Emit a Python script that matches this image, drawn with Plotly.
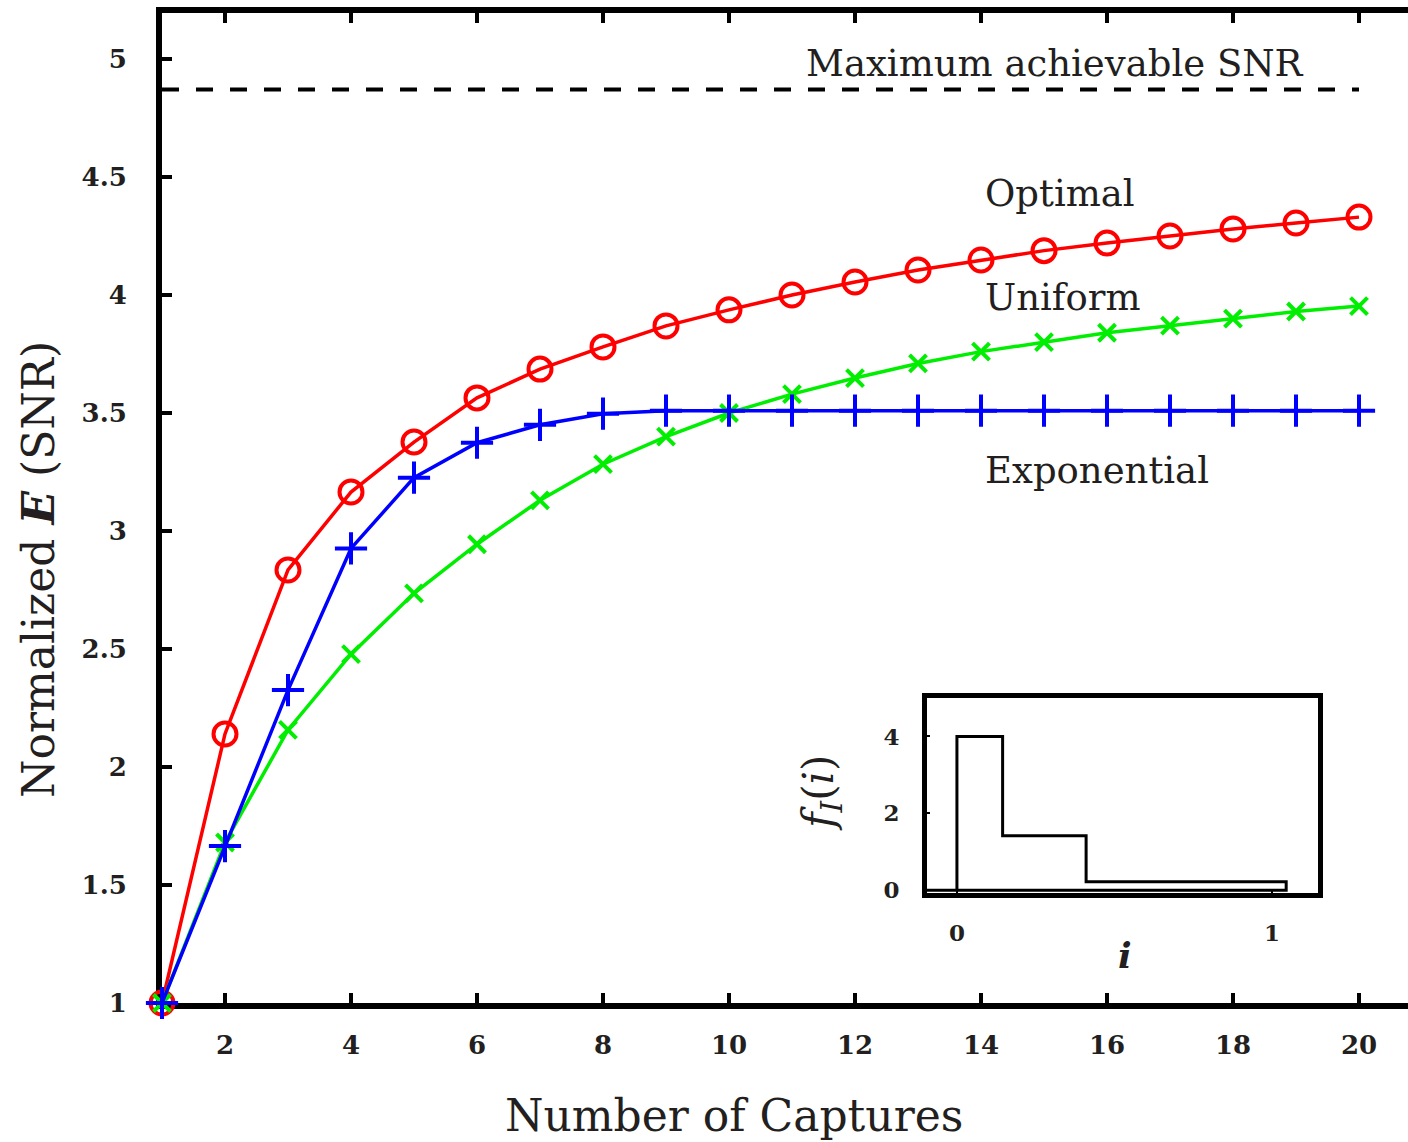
import plotly.graph_objects as go

captures = list(range(1, 21))
optimal = [1.0, 2.14, 2.835, 3.165, 3.377, 3.564, 3.686, 3.78, 3.869, 3.937,
           4.0, 4.055, 4.106, 4.148, 4.188, 4.22, 4.25, 4.28, 4.305, 4.33]
uniform = [1.0, 1.68, 2.157, 2.478, 2.736, 2.944, 3.13, 3.283, 3.40, 3.50,
           3.58, 3.648, 3.71, 3.76, 3.80, 3.84, 3.87, 3.90, 3.93, 3.953]
exponential = [1.0, 1.665, 2.326, 2.926, 3.226, 3.374, 3.45, 3.497, 3.51, 3.51,
               3.51, 3.51, 3.51, 3.51, 3.51, 3.51, 3.51, 3.51, 3.51, 3.51]
max_snr = 4.871

# inset: piecewise-constant density f_I(i)
inset_edges = [0.0, 0.145, 0.41, 1.045]
inset_heights = [4.0, 1.42, 0.22]

FONT = "DejaVu Serif"
TXT = "#231f20"

fig = go.Figure()

fig.add_trace(go.Scatter(x=[captures[0], captures[-1]], y=[max_snr, max_snr], mode="lines",
                         line=dict(color="black", width=4, dash="17px,17px"), showlegend=False))
fig.add_trace(go.Scatter(x=captures, y=optimal, mode="lines+markers", cliponaxis=False,
                         line=dict(color="#ff0000", width=3.5),
                         marker=dict(symbol="circle-open", size=23, color="#ff0000",
                                     line=dict(width=4, color="#ff0000")), showlegend=False))
fig.add_trace(go.Scatter(x=captures, y=uniform, mode="lines+markers", cliponaxis=False,
                         line=dict(color="#00ee00", width=3.5),
                         marker=dict(symbol="x-thin", size=17, color="#00ee00",
                                     line=dict(width=4, color="#00ee00")), showlegend=False))
fig.add_trace(go.Scatter(x=captures, y=exponential, mode="lines+markers", cliponaxis=False,
                         line=dict(color="#0000ff", width=3.5),
                         marker=dict(symbol="cross-thin", size=23, color="#0000ff",
                                     line=dict(width=4, color="#0000ff")), showlegend=False))

# inset step outline
sx = [-0.1, inset_edges[0]]
sy = [0, 0]
for k, h in enumerate(inset_heights):
    sx += [inset_edges[k], inset_edges[k + 1]]
    sy += [h, h]
sx += [inset_edges[-1], inset_edges[0]]
sy += [0, 0]
fig.add_trace(go.Scatter(x=sx, y=sy, mode="lines", line=dict(color="black", width=3),
                         xaxis="x2", yaxis="y2", showlegend=False))

W, H = 1408, 1142
L, R, T, B = 162, 0, 13, 139
pw, ph = W - L - R, H - T - B


def px(x):
    return (x - L) / pw


def py(y):
    return (H - B - y) / ph


TICKF = dict(size=26, family=FONT, color=TXT, weight="bold")
ITICKF = dict(size=23, family=FONT, color=TXT, weight="bold")

fig.update_layout(
    width=W, height=H,
    margin=dict(l=L, r=R, t=T, b=B),
    paper_bgcolor="white", plot_bgcolor="white",
    font=dict(family=FONT, color=TXT),
    xaxis=dict(range=[1, 1 + pw / 63.0], tickvals=list(range(2, 21, 2)), layer="below traces",
               showgrid=False, zeroline=False, showline=True, linecolor="black", linewidth=6,
               mirror="ticks", ticks="inside", ticklen=10, tickwidth=4, tickcolor="black",
               tickfont=TICKF, ticklabelstandoff=14),
    yaxis=dict(range=[1, 1 + ph / 236.0], tickvals=[1, 1.5, 2, 2.5, 3, 3.5, 4, 4.5, 5],
               ticktext=["1", "1.5", "2", "2.5", "3", "3.5", "4", "4.5", "5"],
               layer="below traces",
               showgrid=False, zeroline=False, showline=True, linecolor="black", linewidth=6,
               mirror=False, ticks="inside", ticklen=10, tickwidth=4, tickcolor="black",
               tickfont=TICKF, ticklabelstandoff=24),
    xaxis2=dict(domain=[px(927), px(1318)], anchor="y2", range=[-0.095, 1.146],
                tickvals=[0, 1], showgrid=False, zeroline=False, showline=True,
                linecolor="black", linewidth=5, mirror=True, ticks="inside", ticklen=3,
                tickwidth=2, tickcolor="black",
                tickfont=ITICKF, ticklabelstandoff=15),
    yaxis2=dict(domain=[py(893), py(698)], anchor="x2", range=[-0.07, 5],
                tickvals=[0, 2, 4], showgrid=False, zeroline=False, showline=True,
                linecolor="black", linewidth=5, mirror=True, ticks="inside", ticklen=3,
                tickwidth=2, tickcolor="black",
                tickfont=ITICKF, ticklabelstandoff=18),
)

ann = [
    dict(text="Maximum achievable SNR", x=15.17, y=4.983, xref="x", yref="y",
         xanchor="center", yanchor="middle", font=dict(size=37)),
    dict(text="Optimal", x=14.03, y=4.43, xref="x", yref="y",
         xanchor="left", yanchor="middle", font=dict(size=37)),
    dict(text="Uniform", x=14.03, y=3.99, xref="x", yref="y",
         xanchor="left", yanchor="middle", font=dict(size=37)),
    dict(text="Exponential", x=14.03, y=3.258, xref="x", yref="y",
         xanchor="left", yanchor="middle", font=dict(size=37)),
    dict(text="Number of Captures", x=px(734), y=py(1115), xref="paper", yref="paper",
         xanchor="center", yanchor="middle", font=dict(size=44)),
    dict(text="Normalized <b><i>E</i></b> (SNR)", x=px(38), y=py(570), xref="paper", yref="paper",
         xanchor="center", yanchor="middle", textangle=-90, font=dict(size=44)),
    dict(text="<i>f</i><sub><i>I</i></sub>(<i>i</i>)", x=px(821), y=py(793), xref="paper",
         yref="paper", xanchor="center", yanchor="middle", textangle=-90, font=dict(size=42)),
    dict(text="<b><i>i</i></b>", x=px(1125), y=py(955), xref="paper", yref="paper",
         xanchor="center", yanchor="middle", font=dict(size=36)),
]
for a in ann:
    a["showarrow"] = False
    a["font"]["family"] = FONT
    a["font"]["color"] = TXT
    fig.add_annotation(**a)

fig.write_html("out.html", config={"displayModeBar": False},
               post_script="document.body.style.margin='0px';document.body.style.overflow='hidden';")
